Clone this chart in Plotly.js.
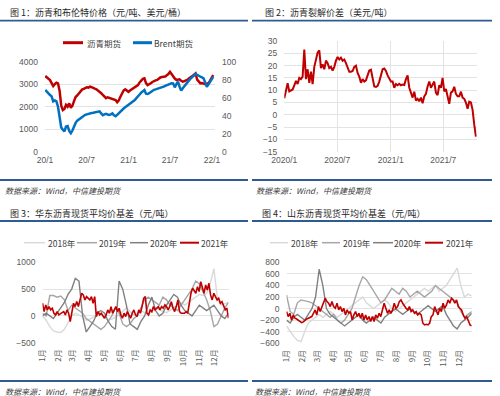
<!DOCTYPE html>
<html><head><meta charset="utf-8">
<script src="https://cdn.plot.ly/plotly-3.0.1.min.js"></script>
<style>html,body{margin:0;padding:0;background:#fff}#chart{width:500px;height:396px}</style>
</head><body><div id="chart"></div>
<script>
// ---------- Data ----------
// Chart 1: weekly from 2020-01-02
const p1Start = '2020-01-02';
const asphaltFutures = [3364,3300,3250,3180,3050,2920,3000,3070,3040,2700,2050,1850,1900,2080,2000,2150,1950,2050,2250,2430,2500,2600,2650,2760,2790,2820,2860,2850,2890,2870,2820,2800,2770,2720,2670,2600,2520,2440,2380,2420,2400,2350,2330,2340,2300,2200,2280,2440,2620,2720,2770,2700,2660,2720,2770,2830,2890,2920,2960,3080,3190,3240,3260,3050,2960,2990,3040,3100,3150,3170,3190,3250,3300,3320,3330,3340,3400,3450,3550,3450,3330,3250,3190,3210,3220,3150,3110,3140,3160,3200,3260,3300,3360,3420,3480,3200,3100,3040,3050,3020,3000,3020,3040,3150,3260,3410];
const brentFutures = [68.6,66.5,64.8,63,61.5,56,57,56,50,38,27,24.5,22.5,28,28.5,23,20.5,23.5,28.5,32,34.5,36,37.5,39,40,41,41.5,42.3,42.6,43,43.3,43.8,44.1,44.5,44.8,42.5,40.5,41.5,42,41.3,40.8,41.5,42.6,40.5,39.5,41,43,44.5,46.5,48,49.3,50.5,51.9,53,54,55.5,57.4,59.5,61,63.5,65.6,67,68.6,64.5,64.1,65,66.5,68,68.8,69.3,69.8,70.2,70.8,71.5,72.2,73.2,74.1,75,75.9,76,75.9,71.5,75,77.8,72.2,68,70.5,73,75.5,77.8,79.5,81.5,83.5,85.5,86.3,85.5,84,83.3,82.6,81.5,77,72.2,74.5,77,80.4,83.3];
const p1TickVals = ['2020-01-01','2020-07-01','2021-01-01','2021-07-01','2022-01-01'];
const p1TickText = ['20/1','20/7','21/1','21/7','22/1'];

// Chart 2: crack spread, every ~5.73 days from 2020-01-01
const crackStart = '2020-01-01';
const crackSpread = [6.7,10,12.8,9.5,9.8,10.3,12,13.8,12.5,15,14.5,15.5,26.5,14.5,18.5,13,17.5,12.5,19.5,22,25.3,26.2,19,20.5,18.5,22,21,19,19.5,18,19.5,22,23.5,22.5,23.2,22,22.5,21,19,17.5,17.5,17.8,19.5,20,17,15.5,13,14.5,13.5,14,16,18,18.3,14,11.5,
 11.3,11.8,13.5,16.5,18.5,18.8,17.8,16,14.5,13.5,13.5,11,12.5,12,12.6,12,12.3,12.1,14.5,16,11,9,7,9.4,5.8,6.5,5.5,7,4.7,7.5,8.5,11.5,13.5,11,12,13.5,9,8,12,11,15,9.5,10.5,8,4.5,9,9.5,11.4,8.5,7.5,7.5,9.4,7,6.5,5,2.5,5.3,5,2,-4,-8.9];
const p2TickVals = ['2020-01-01','2020-07-01','2021-01-01','2021-07-01'];
const p2TickText = ['2020/1','2020/7','2021/1','2021/7'];

// Charts 3 & 4: day-of-year axis
const monthLabels = ['1月','2月','3月','4月','5月','6月','7月','8月','9月','10月','11月','12月'];
const monthStartDay = [0,31,59,90,120,151,181,212,243,273,304,334];

const east2018 = [0,-80,-200,-280,-300,-310,-250,-120,0,50,20,-20,-80,-60,-20,0,30,-30,-80,-60,-20,20,80,150,80,20,50,100,60,30,80,150,120,80,60,100,150,200,250,200,250,300,350,400,380,420,600,880,300,200,230,250];
const east2019 = [50,0,380,380,350,370,300,100,200,150,100,50,-50,-100,-150,-200,-250,-200,-100,0,150,50,-150,-200,-150,-50,0,150,300,350,300,250,200,350,300,200,150,100,200,300,400,500,650,600,450,300,100,-200,-150,0,150,250];
const east2020 = [0,50,0,-50,50,150,250,400,500,700,650,0,-300,-200,-100,50,100,50,-100,-200,-250,650,500,200,-150,-200,-250,-100,0,200,350,100,0,50,200,300,400,350,200,100,50,0,100,200,150,100,150,200,100,0,-50,50];
const east2021 = [236,80,205,112,174,112,143,50,19,80,19,50,62,80,19,112,50,-105,112,236,174,267,174,298,422,391,298,360,329,298,360,236,360,-12,80,19,50,-12,-43,19,112,50,174,50,112,174,80,143,19,-43,50,-12,80,19,-43,50,112,19,-12,112,50,174,329,360,50,19,112,80,174,112,143,174,112,174,143,205,174,112,174,267,143,80,174,298,80,50,50,50,80,50,236,422,515,453,422,546,453,640,515,422,577,484,608,391,298,422,360,298,329,236,267,174,112,143,-43];

const sd2018 = [-300,-400,-480,-550,-570,-400,-250,-200,-150,-100,-150,-100,-50,-100,-150,-100,-50,0,50,100,150,200,100,50,0,50,100,150,100,0,-50,0,50,100,150,200,250,300,350,300,350,400,300,350,400,500,600,700,400,200,250,220];
const sd2019 = [236,-50,-100,100,150,140,120,100,50,0,-50,-100,-150,-100,-200,-250,-200,-100,0,200,400,550,500,400,300,200,100,150,250,350,300,250,350,300,200,250,300,250,200,250,300,400,350,300,250,200,150,100,-50,-150,-100,-50];
const sd2020 = [-200,-250,-150,-100,-150,-200,-100,0,200,680,400,0,-100,-150,-200,-250,-300,-250,-200,-150,-100,-200,-250,-200,-150,-200,-250,-150,-100,-50,0,-50,-100,-50,0,-50,-100,-50,0,50,0,-50,0,50,-100,-200,-300,-350,-250,-200,-150,-80];
const sd2021 = [-52,-138,-81,-196,-109,-167,-180,-196,-220,-242,-230,-196,-180,-167,-150,-138,-81,-23,-109,35,-52,35,92,179,121,92,35,121,35,6,92,-23,35,-52,6,-109,-23,-81,-52,-196,-109,-52,-138,-81,-167,-81,-196,-109,-196,-138,-225,-138,-225,-109,-167,-81,-138,-23,92,6,-81,-23,-81,-23,92,6,35,121,150,92,35,6,-23,35,-52,-23,-81,-52,-109,-81,-109,-253,-282,-271,-282,-253,-138,-109,35,-23,-109,6,-52,92,6,63,150,92,179,150,92,150,35,6,-23,-109,-167,-138,-225,-282,-300];

const c2018 = '#d9d9d9', c2019 = '#a6a6a6', c2020 = '#808080', c2021 = '#c00000';
const cRed = '#c00000', cBlue = '#0070c0', cRule = '#2e5b93';

// ---------- helpers ----------
const DAY = 86400000;
function dateSeries(start, n, stepDays) {
  const t0 = Date.parse(start + 'T00:00:00Z');
  const out = [];
  for (let i = 0; i < n; i++) out.push(new Date(t0 + i * stepDays * DAY).toISOString().slice(0, 19).replace('T', ' '));
  return out;
}
function daySeries(n, lastDay) {
  const out = [];
  for (let i = 0; i < n; i++) out.push(i * lastDay / (n - 1));
  return out;
}
const W = 500, H = 396;
const px = x => x / W;
const py = y => 1 - y / H;

const tickFont = {family: 'Liberation Sans, Arial, sans-serif', size: 8.5, color: '#595959'};
const cjk = 'Noto Sans CJK SC, sans-serif';
const grid = '#e3e3e3';

const p1x = dateSeries(p1Start, asphaltFutures.length, 7);
const p2x = dateSeries(crackStart, crackSpread.length, 5.733);
const P3END = 361, P4END = 358;

const traces = [
  {x: p1x, y: asphaltFutures, xaxis: 'x', yaxis: 'y', mode: 'lines', line: {color: cRed, width: 2.5}, name: '沥青期货'},
  {x: p1x, y: brentFutures, xaxis: 'x', yaxis: 'y2', mode: 'lines', line: {color: cBlue, width: 2.5}, name: 'Brent期货'},
  {x: p2x, y: crackSpread, xaxis: 'x2', yaxis: 'y3', mode: 'lines', line: {color: cRed, width: 2}, name: '裂解价差'},
  {x: daySeries(east2018.length, P3END), y: east2018, xaxis: 'x3', yaxis: 'y4', mode: 'lines', line: {color: c2018, width: 1.4}, name: '2018年'},
  {x: daySeries(east2019.length, P3END), y: east2019, xaxis: 'x3', yaxis: 'y4', mode: 'lines', line: {color: c2019, width: 1.4}, name: '2019年'},
  {x: daySeries(east2020.length, P3END), y: east2020, xaxis: 'x3', yaxis: 'y4', mode: 'lines', line: {color: c2020, width: 1.4}, name: '2020年'},
  {x: daySeries(east2021.length, P3END), y: east2021, xaxis: 'x3', yaxis: 'y4', mode: 'lines', line: {color: c2021, width: 1.6}, name: '2021年'},
  {x: daySeries(sd2018.length, P4END), y: sd2018, xaxis: 'x4', yaxis: 'y5', mode: 'lines', line: {color: c2018, width: 1.4}, name: '2018年'},
  {x: daySeries(sd2019.length, P4END), y: sd2019, xaxis: 'x4', yaxis: 'y5', mode: 'lines', line: {color: c2019, width: 1.4}, name: '2019年'},
  {x: daySeries(sd2020.length, P4END), y: sd2020, xaxis: 'x4', yaxis: 'y5', mode: 'lines', line: {color: c2020, width: 1.4}, name: '2020年'},
  {x: daySeries(sd2021.length, P4END), y: sd2021, xaxis: 'x4', yaxis: 'y5', mode: 'lines', line: {color: c2021, width: 1.6}, name: '2021年'}
];

const baseX = {showline: false, zeroline: false, ticks: '', tickfont: tickFont, fixedrange: true};
const baseY = {showline: false, zeroline: false, ticks: '', tickfont: tickFont, gridcolor: grid, gridwidth: 1, fixedrange: true, ticklabelstandoff: 6};

const layout = {
  width: W, height: H, margin: {l: 0, r: 0, t: 0, b: 0},
  paper_bgcolor: '#fff', plot_bgcolor: 'rgba(0,0,0,0)', showlegend: false,
  xaxis: Object.assign({}, baseX, {domain: [px(45), px(215)], anchor: 'y', type: 'date', range: ['2020-01-01', '2022-01-14'], tickvals: p1TickVals, ticktext: p1TickText, showgrid: false, ticklabelstandoff: 2}),
  yaxis: Object.assign({}, baseY, {domain: [py(151.7), py(61.7)], anchor: 'x', range: [0, 4000], dtick: 1000}),
  yaxis2: Object.assign({}, baseY, {overlaying: 'y', side: 'right', anchor: 'x', range: [0, 100], dtick: 20, showgrid: false}),
  xaxis2: Object.assign({}, baseX, {domain: [px(284.3), px(476.7)], anchor: 'y3', type: 'date', range: ['2020-01-01', '2021-10-24'], tickvals: p2TickVals, ticktext: p2TickText, showgrid: true, gridcolor: grid, ticklabelstandoff: 2}),
  yaxis3: Object.assign({}, baseY, {domain: [py(151.7), py(41)], anchor: 'x2', range: [-15, 30], dtick: 5}),
  xaxis3: Object.assign({}, baseX, {domain: [px(42.5), px(228.5)], anchor: 'y4', range: [0, P3END], tickvals: monthStartDay, ticktext: monthLabels, tickangle: -90, showgrid: false, ticklabelstandoff: 4, tickfont: {family: cjk, size: 8, color: '#595959'}}),
  yaxis4: Object.assign({}, baseY, {domain: [py(342.7), py(262.3)], anchor: 'x3', range: [-500, 1000], dtick: 500}),
  xaxis4: Object.assign({}, baseX, {domain: [px(286.5), px(471.7)], anchor: 'y5', range: [0, P4END], tickvals: monthStartDay, ticktext: monthLabels, tickangle: -90, showgrid: false, ticklabelstandoff: 4, tickfont: {family: cjk, size: 8, color: '#595959'}}),
  yaxis5: Object.assign({}, baseY, {domain: [py(343.3), py(262.3)], anchor: 'x4', range: [-600, 800], dtick: 200}),
  shapes: [],
  annotations: []
};

function rule(x0, x1, y) {
  layout.shapes.push({type: 'line', xref: 'paper', yref: 'paper', x0: px(x0), x1: px(x1), y0: py(y), y1: py(y), line: {color: cRule, width: 1.8}});
}
function text(x, y, t, opts) {
  layout.annotations.push(Object.assign({xref: 'paper', yref: 'paper', x: px(x), y: py(y), text: t, showarrow: false, xanchor: 'left', yanchor: 'middle', borderpad: 0,
    font: {family: cjk, size: 9, color: '#262626'}}, opts || {}));
}
function legendItem(x0, x1, y, color, width, label, tx) {
  layout.shapes.push({type: 'line', xref: 'paper', yref: 'paper', x0: px(x0), x1: px(x1), y0: py(y), y1: py(y), line: {color: color, width: width}});
  text(tx, y, label, {font: {family: cjk, size: 8.5, color: '#404040'}});
}

// rules
rule(0, 248, 20.7); rule(252, 492, 20.7);
rule(0, 248, 180); rule(252, 492, 180);
rule(0, 248, 221); rule(252, 492, 221);
rule(0, 248, 381); rule(252, 492, 381);

// titles
text(9, 12.7, '图 1：沥青和布伦特价格（元/吨、美元/桶）');
text(264, 12.7, '图 2：沥青裂解价差（美元/吨）');
text(9, 213, '图 3：华东沥青现货平均价基差（元/吨）');
text(261, 213, '图 4：山东沥青现货平均价基差（元/吨）');

// sources
const srcFont = {family: cjk, size: 8, color: '#404040'};
text(4, 191, '<i>数据来源：Wind，中信建投期货</i>', {font: srcFont});
text(255, 191, '<i>数据来源：Wind，中信建投期货</i>', {font: srcFont});
text(4, 391, '<i>数据来源：Wind，中信建投期货</i>', {font: srcFont});
text(254, 391, '<i>数据来源：Wind，中信建投期货</i>', {font: srcFont});

// legends
legendItem(63, 83, 42.7, cRed, 3, '沥青期货', 86);
legendItem(133, 152, 42.7, cBlue, 3, 'Brent期货', 153);
legendItem(24, 45, 242.7, c2018, 1.5, '2018年', 47);
legendItem(77, 97, 242.7, c2019, 1.5, '2019年', 98);
legendItem(130, 148, 242.7, c2020, 1.5, '2020年', 149);
legendItem(180, 199, 242.7, c2021, 2, '2021年', 200);
legendItem(270, 288, 242.7, c2018, 1.5, '2018年', 290);
legendItem(322, 340, 242.7, c2019, 1.5, '2019年', 342);
legendItem(373, 393, 242.7, c2020, 1.5, '2020年', 393);
legendItem(425, 443, 242.7, c2021, 2, '2021年', 445);

Plotly.newPlot('chart', traces, layout, {staticPlot: true, displayModeBar: false});
</script>
</body></html>
